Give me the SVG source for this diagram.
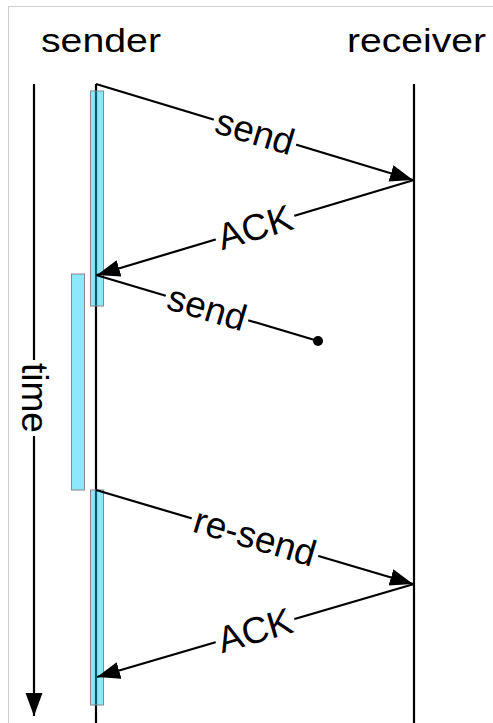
<svg xmlns="http://www.w3.org/2000/svg" width="493" height="723" viewBox="0 0 493 723">
  <style>
    .hdr { font-family: "Liberation Sans", Arial, sans-serif; font-size: 34px; fill: #000; }
    .lbl { font-family: "Liberation Sans", Arial, sans-serif; font-size: 37px; fill: #000; text-anchor: middle; dominant-baseline: central; }
    .life { stroke: #000; stroke-width: 2.2; fill: none; }
    .msg { stroke: #000; stroke-width: 2.2; fill: none; }
    .gap { fill: #fff; }
    .busy { fill: #00ccf5; fill-opacity: 0.45; stroke: #888; stroke-width: 1; }
  </style>
  <defs>
    <marker id="head" markerUnits="userSpaceOnUse" markerWidth="24" markerHeight="18" refX="23" refY="8.5" orient="auto">
      <path d="M0,0 L23,8.5 L0,17 z" fill="#000"/>
    </marker>
  </defs>

  <rect width="493" height="723" fill="#fff"/>
  <rect x="8.5" y="6.5" width="500" height="740" fill="none" stroke="#cfcfcf" stroke-width="1"/>

  <!-- participants -->
  <g id="sender">
    <text class="hdr" x="41" y="51.5" textLength="120" lengthAdjust="spacingAndGlyphs">sender</text>
    <line class="life" x1="96" y1="84" x2="96" y2="723"/>
  </g>
  <g id="receiver">
    <text class="hdr" x="347" y="51.5" textLength="139" lengthAdjust="spacingAndGlyphs">receiver</text>
    <line class="life" x1="414" y1="84" x2="414" y2="723"/>
  </g>

  <!-- time axis -->
  <g id="time">
    <line class="msg" x1="34" y1="84" x2="34" y2="716" marker-end="url(#head)"/>
    <g transform="translate(34,398) rotate(90)">
      <rect class="gap" x="-38" y="-14" width="76" height="28"/>
      <text class="lbl" x="0" y="0">time</text>
    </g>
  </g>

  <!-- busy (timer) bars -->
  <g id="timer1"><rect class="busy" x="90.5" y="91" width="13" height="215"/></g>
  <g id="timer2"><rect class="busy" x="71.5" y="274" width="13" height="216"/></g>
  <g id="timer3"><rect class="busy" x="90.5" y="490" width="13" height="215"/></g>

  <!-- messages -->
  <g id="connectors">
    <g id="send1">
      <line class="msg" x1="96" y1="84" x2="413" y2="180" marker-end="url(#head)"/>
      <g transform="translate(255,132) rotate(16.8)">
        <rect class="gap" x="-43" y="-15" width="86" height="30"/>
        <text class="lbl" x="0" y="0">send</text>
      </g>
    </g>
    <g id="ack1">
      <line class="msg" x1="414" y1="180" x2="97" y2="275" marker-end="url(#head)"/>
      <g transform="translate(255,227.5) rotate(-16.6)">
        <rect class="gap" x="-41" y="-16" width="82" height="32"/>
        <text class="lbl" x="0" y="0">ACK</text>
      </g>
    </g>
    <g id="send2">
      <line class="msg" x1="96" y1="275" x2="318" y2="341"/>
      <circle cx="318" cy="341" r="5" fill="#000"/>
      <g transform="translate(207,308) rotate(16.6)">
        <rect class="gap" x="-43" y="-15" width="86" height="30"/>
        <text class="lbl" x="0" y="0">send</text>
      </g>
    </g>
    <g id="resend">
      <line class="msg" x1="96" y1="490" x2="413" y2="584" marker-end="url(#head)"/>
      <g transform="translate(255,537) rotate(16.5)">
        <rect class="gap" x="-66" y="-15" width="132" height="30"/>
        <text class="lbl" x="0" y="0">re-send</text>
      </g>
    </g>
    <g id="ack2">
      <line class="msg" x1="414" y1="584" x2="97" y2="677" marker-end="url(#head)"/>
      <g transform="translate(255,630.5) rotate(-16.3)">
        <rect class="gap" x="-41" y="-16" width="82" height="32"/>
        <text class="lbl" x="0" y="0">ACK</text>
      </g>
    </g>
  </g>
</svg>
